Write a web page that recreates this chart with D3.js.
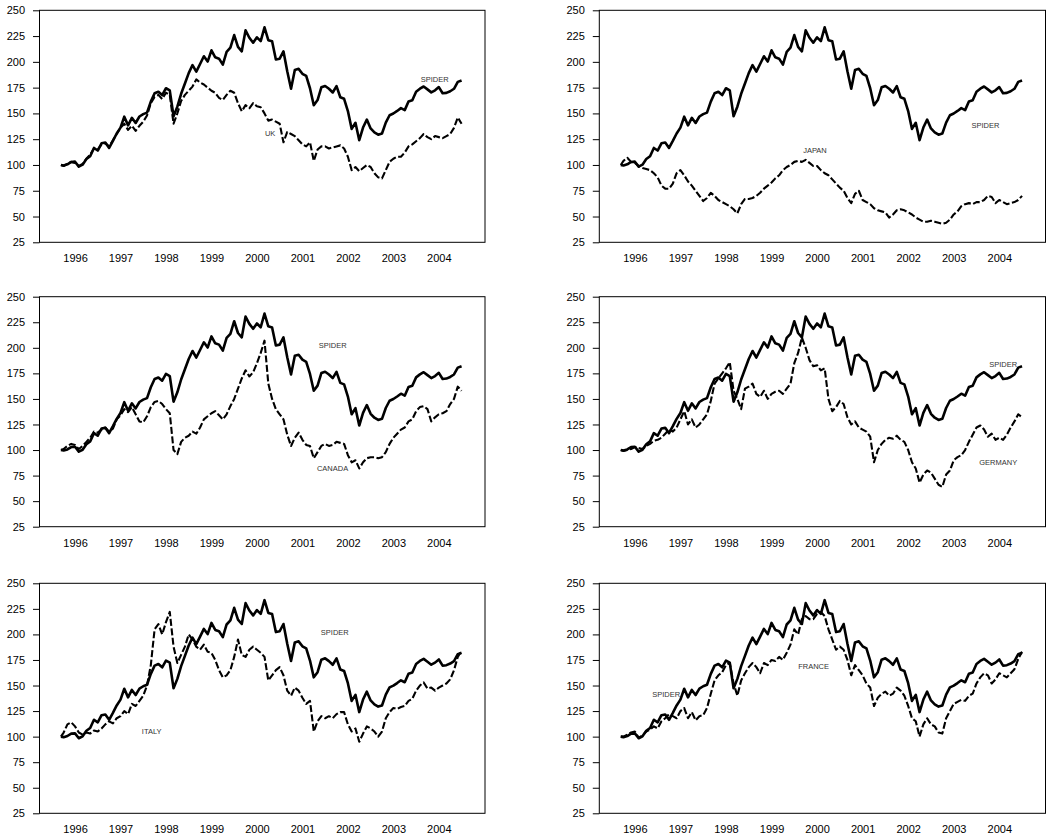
<!DOCTYPE html>
<html><head><meta charset="utf-8">
<script src="https://cdn.jsdelivr.net/npm/d3@7"></script>
<style>
body{margin:0;background:#fff;}
svg{display:block;}
text{font-family:"Liberation Sans",Arial,sans-serif;}
</style></head>
<body><svg id="c" width="1048" height="836"></svg>
<script>
// ---- data (indexed, normalized to 100 at March 1996; monthly readings) ----
const startYear = 1996.19;           // first observation
const yTicks = [25,50,75,100,125,150,175,200,225,250];
const yearLabels = ["1996","1997","1998","1999","2000","2001","2002","2003","2004"];

const spider = [
100,99.5,100.6,102.9,103.2,98.4,100.3,105.7,108.5,116.5,114.0,
121.0,121.7,116.5,123.3,130.5,136.2,146.8,138.4,145.7,140.7,147.0,149.3,
150.8,161.4,169.5,171.0,167.8,174.4,172.4,147.3,156.5,169.0,179.0,189.1,
196.9,190.5,197.9,205.4,200.3,211.2,204.4,203.1,197.3,209.7,213.7,226.0,
214.5,210.2,230.6,223.4,218.6,223.8,220.1,233.5,221.0,219.9,202.3,203.1,
210.2,190.8,174.0,192.2,193.2,188.4,186.3,174.4,158.0,163.0,175.3,176.6,
173.9,170.3,176.5,165.7,164.2,152.3,135.0,140.9,124.0,136.3,144.0,135.4,
131.6,129.4,130.5,141.1,148.2,149.9,152.4,155.1,153.2,161.6,162.8,171.1,
174.0,176.1,173.3,170.4,172.4,175.5,169.5,169.9,171.5,173.9,180.6,182.0];

const uk = [
100,99,101,103,102,99,101,106,110,116,115,
120,121,118,124,130,136,140,134,138,133,138,142,
148,160,166,168,164,170,168,140,150,162,168,172,
176,183,180,178,175,172,170,165,163,168,172,170,
160,152,158,155,160,157,156,150,143,144,142,140,
122,132,130,128,124,120,118,122,104,115,118,118,
116,117,118,119,116,108,95,98,94,97,100,98,
92,88,87,95,103,106,108,108,112,118,120,123,
126,130,127,125,128,127,126,128,130,136,146,140];

const japan = [
100,104,107,103,102,99,97,96,95,92,88,
80,77,77,82,92,95,90,84,80,75,70,65,
68,73,70,66,64,62,60,57,53,62,67,67,
68,70,73,77,80,83,87,90,95,98,100,103,
104,103,105,102,99,99,95,92,90,86,82,78,
75,68,63,72,75,66,64,62,58,56,55,54,
49,52,56,57,56,54,52,49,47,45,45,46,
45,44,43,44,47,52,55,60,62,63,62,64,
64,66,70,69,63,66,64,62,63,64,66,70];

const canada = [
100,101,104,106,105,101,104,108,112,118,117,
120,122,118,121,130,134,140,137,142,135,128,127,
133,142,147,148,145,140,136,100,96,108,112,114,
118,116,122,130,133,136,138,134,130,135,143,150,
160,170,178,172,176,185,195,207,165,150,140,135,
130,115,104,112,117,110,105,104,92,98,104,106,
104,105,108,107,106,95,88,90,82,88,92,93,
93,92,93,98,106,112,116,120,122,128,130,138,
142,143,140,128,132,135,136,138,145,150,162,158];

const germany = [
100,99,100,101,103,102,101,104,106,109,110,
112,116,120,118,122,130,138,125,130,122,125,130,
135,148,165,170,175,180,186,158,150,140,160,162,
165,155,152,158,150,155,157,158,155,160,165,185,
195,210,200,188,182,183,178,180,150,138,142,148,
145,132,125,128,122,120,118,113,88,100,106,110,
112,111,114,110,108,100,88,82,68,76,80,78,
72,66,64,76,80,90,93,95,100,108,115,122,
124,120,113,116,110,112,110,115,122,128,135,132];

const italy = [
100,104,112,114,110,104,102,104,103,106,105,
108,112,115,113,118,120,125,122,132,130,135,140,
150,170,205,210,200,212,222,188,172,180,188,200,
195,188,185,190,183,182,175,165,158,160,165,178,
195,180,178,185,188,185,182,178,155,160,165,168,
160,145,140,148,145,138,132,135,105,115,120,118,
120,118,122,124,124,112,105,108,95,103,110,108,
105,100,105,118,124,128,127,129,130,135,137,145,
150,153,147,148,145,148,150,152,156,165,178,184];

const france = [
100,100,102,104,105,99,101,105,107,110,108,
115,118,122,120,118,125,128,118,124,116,120,121,
128,142,155,160,163,170,172,152,140,155,162,168,
172,168,162,172,170,175,174,178,175,182,190,205,
200,215,218,215,215,220,222,218,205,195,185,188,
185,175,160,170,165,160,152,148,130,138,142,144,
140,142,148,145,140,130,118,115,100,112,118,112,
110,104,103,118,125,132,134,136,135,140,142,152,
158,162,160,152,156,162,160,158,162,166,176,183];

const countries = [
  {name:"UK",      values:uk,      spiderLabel:[2004.10,183.4], label:[2000.675,131.0]},
  {name:"JAPAN",   values:japan,   spiderLabel:[2003.89,138.8], label:[2000.195,114.5]},
  {name:"CANADA",  values:canada,  spiderLabel:[2001.86,202.7], label:[2001.82,82.4]},
  {name:"GERMANY", values:germany, spiderLabel:[2004.28,184.2], label:[2004.06,88.3]},
  {name:"ITALY",   values:italy,   spiderLabel:[2001.905,202.4],label:[1997.97,105.5]},
  {name:"FRANCE",  values:france,  spiderLabel:[1996.88,141.7], label:[2000.085,169.1]}
];

// ---- layout ----
const colX = [[39.5,485],[599.3,1045.5]];
const rowY = [[10.3,242.3],[296.7,526.7],[583.3,813.3]];
const dates = spider.map((d,i)=> i===0 ? startYear : 1996 + (i+2)/12);

const svg = d3.select("#c");

countries.forEach((c,idx)=>{
  const col = idx%2, row = Math.floor(idx/2);
  const [x0,x1] = colX[col], [y0,y1] = rowY[row];
  const x = d3.scaleLinear().domain([1995.719,2005.515]).range([x0,x1]);
  const y = d3.scaleLinear().domain([25,250]).range([y1,y0]);
  const g = svg.append("g");

  // y axis
  const ya = g.append("g").attr("transform",`translate(${x0},0)`)
    .call(d3.axisLeft(y).tickValues(yTicks).tickSize(6.5).tickPadding(8).tickFormat(d3.format("d")));
  ya.select(".domain").remove();
  ya.selectAll("line").attr("stroke","#000");
  ya.selectAll("text").attr("font-size","11px").attr("fill","#000")
    .attr("font-family","'Liberation Sans',Arial,sans-serif");

  // x axis (labels at mid-year)
  const xa = g.append("g").attr("transform",`translate(0,${y1})`)
    .call(d3.axisBottom(x).tickValues(yearLabels.map(s=>+s+0.5)).tickSize(0).tickPadding(12.3)
      .tickFormat(d=>String(Math.floor(d))));
  xa.select(".domain").remove();
  xa.selectAll("text").attr("font-size","11px").attr("fill","#000")
    .attr("font-family","'Liberation Sans',Arial,sans-serif");

  // lines
  const line = d3.line().x((d,i)=>x(dates[i])).y(d=>y(d));
  g.append("path").datum(spider).attr("d",line)
    .attr("fill","none").attr("stroke","#000").attr("stroke-width",2.6).attr("stroke-linejoin","round");
  g.append("path").datum(c.values).attr("d",line)
    .attr("fill","none").attr("stroke","#000").attr("stroke-width",2.1)
    .attr("stroke-dasharray","7,2.5").attr("stroke-linejoin","round");

  // frame
  g.append("rect").attr("x",x0).attr("y",y0).attr("width",x1-x0).attr("height",y1-y0)
    .attr("fill","none").attr("stroke","#000").attr("stroke-width",1);

  // labels
  const lab = (txt,p)=> g.append("text").attr("x",x(p[0])).attr("y",y(p[1]))
    .attr("dy","0.35em").attr("font-size","7.5px").attr("fill","#333").text(txt);
  lab("SPIDER", c.spiderLabel);
  lab(c.name, c.label);
});
</script>
</body></html>
